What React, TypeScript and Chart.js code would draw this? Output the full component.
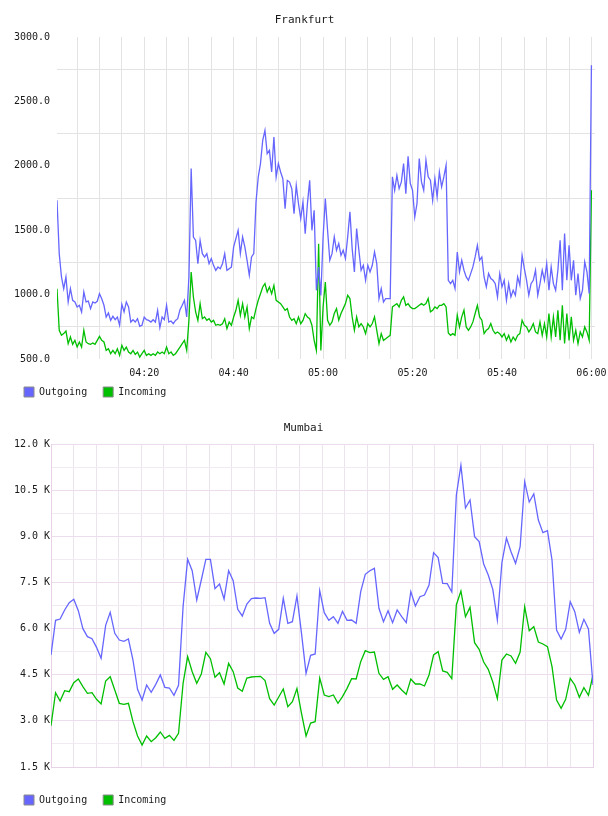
import React, { useEffect, useRef } from 'react';
import { Chart, registerables } from 'chart.js';

Chart.register(...registerables);

// ---- time axis (minutes after 04:00) ----
const FRANKFURT_START_MIN = 0.5;
const FRANKFURT_STEP_MIN = 0.5;
const FRANKFURT_X_MIN = 0.5;
const FRANKFURT_X_MAX = 120.8;

const MUMBAI_START_MIN = 0.3;
const MUMBAI_END_MIN = 120.3;

const SERIES_LABELS = ['Outgoing', 'Incoming'];

// ---- Frankfurt data (30 s samples) ----
const FRANKFURT_OUTGOING = [
  1732, 1318, 1137, 1046, 1137, 943, 1046, 956, 943, 904,
  917, 865, 1020, 943, 950, 891, 943, 935, 948, 1007,
  968, 917, 826, 857, 800, 831, 805, 826, 762, 925,
  865, 943, 904, 787, 805, 787, 813, 754, 762, 826,
  805, 800, 787, 805, 787, 878, 743, 826, 805, 917,
  787, 795, 774, 800, 813, 883, 917, 956, 826, 1137,
  1978, 1447, 1421, 1240, 1421, 1318, 1292, 1318, 1240, 1279,
  1227, 1188, 1214, 1201, 1240, 1318, 1188, 1201, 1214, 1370,
  1434, 1499, 1318, 1447, 1370, 1266, 1150, 1292, 1318, 1719,
  1913, 2017, 2198, 2275, 2094, 2120, 1952, 2224, 1913, 2017,
  1952, 1900, 1667, 1887, 1874, 1822, 1628, 1848, 1706, 1590,
  1719, 1473, 1706, 1887, 1499, 1654, 1033, 1214, 994, 1447,
  1745, 1500, 1267, 1318, 1448, 1344, 1396, 1305, 1344, 1280,
  1448, 1642, 1357, 1176, 1512, 1344, 1189, 1228, 1111, 1228,
  1176, 1228, 1331, 1241, 969, 1047, 943, 969, 969, 969,
  1914, 1810, 1926, 1823, 1875, 2017, 1784, 2074, 1862, 1810,
  1603, 1707, 2056, 1875, 1810, 2043, 1914, 1888, 1732, 1901,
  1758, 1952, 1836, 1914, 2004, 1111, 1085, 1111, 1047, 1331,
  1176, 1267, 1189, 1137, 1111, 1163, 1215, 1292, 1383, 1267,
  1292, 1137, 1060, 1163, 1124, 1111, 1085, 982, 1163, 1060,
  1111, 956, 1085, 982, 1034, 995, 1137, 1073, 1305, 1202,
  1111, 995, 1085, 1111, 1189, 995, 1085, 1189, 1111, 1241,
  1034, 1215, 1085, 1034, 1189, 1422, 1034, 1474, 1111, 1383,
  1111, 1267, 995, 1163, 969, 1034, 1254, 1176, 1008, 2781,
];

const FRANKFURT_INCOMING = [
  1046, 723, 684, 697, 717, 619, 671, 614, 645, 593,
  632, 593, 723, 632, 619, 614, 624, 614, 645, 676,
  645, 632, 567, 580, 541, 567, 541, 580, 528, 606,
  567, 593, 554, 541, 567, 536, 554, 515, 541, 567,
  528, 541, 528, 541, 528, 554, 541, 554, 541, 593,
  541, 554, 528, 541, 567, 593, 619, 645, 567, 800,
  1175, 981, 865, 800, 930, 813, 826, 800, 813, 787,
  800, 762, 769, 762, 774, 813, 736, 787, 762, 826,
  878, 956, 839, 930, 826, 904, 736, 826, 813, 891,
  956, 1007, 1059, 1085, 1020, 1059, 1007, 1072, 956, 943,
  930, 904, 878, 891, 826, 800, 813, 774, 826, 774,
  800, 852, 826, 813, 762, 645, 567, 1395, 567, 904,
  1098, 801, 762, 788, 853, 891, 801, 853, 891, 930,
  995, 969, 827, 723, 827, 749, 775, 749, 697, 775,
  749, 775, 827, 723, 620, 697, 645, 658, 671, 684,
  904, 917, 930, 904, 956, 982, 917, 930, 904, 891,
  891, 904, 917, 930, 917, 930, 969, 866, 879, 904,
  891, 917, 917, 930, 904, 702, 684, 697, 684, 840,
  749, 827, 879, 749, 723, 749, 788, 853, 917, 827,
  801, 697, 723, 736, 775, 723, 697, 710, 697, 671,
  697, 645, 684, 632, 671, 645, 684, 697, 801, 762,
  749, 710, 736, 775, 710, 697, 788, 684, 775, 671,
  853, 671, 827, 671, 879, 645, 917, 620, 853, 645,
  827, 645, 723, 620, 710, 671, 749, 710, 645, 1810,
];

// ---- Mumbai data (~1 min samples) ----
const MUMBAI_OUTGOING = [
  5141, 6268, 6311, 6604, 6842, 6950, 6582, 5997, 5737, 5672,
  5390, 5032, 6105, 6528, 5845, 5628, 5585, 5661, 4978, 4025,
  3678, 4165, 3927, 4187, 4491, 4090, 4068, 3829, 4155, 6712,
  8251, 7882, 6929, 7579, 8251, 8251, 7297, 7449, 6961, 7882,
  7557, 6625, 6409, 6799, 6972, 6994, 6983, 7005, 6170, 5845,
  5975, 6983, 6170, 6224, 7059, 5845, 4544, 5130, 5174, 7230,
  6517, 6268, 6387, 6170, 6560, 6268, 6279, 6170, 7200, 7763,
  7882, 7958, 6658, 6224, 6582, 6192, 6604, 6387, 6192, 7200,
  6734, 7037, 7091, 7416, 8467, 8305, 7470, 7460, 7189, 10342,
  11306, 9919, 10180, 8988, 8825, 8099, 7741, 7276, 6279, 8142,
  8944, 8500, 8121, 8662, 10776, 10114, 10375, 9529, 9118, 9183,
  8229, 5954, 5661, 5975, 6875, 6550, 5878, 6300, 5986, 4166,
];

const MUMBAI_INCOMING = [
  2844, 3916, 3646, 3981, 3949, 4241, 4361, 4111, 3895, 3916,
  3700, 3548, 4296, 4436, 4003, 3570, 3537, 3570, 2974, 2508,
  2215, 2508, 2323, 2453, 2638, 2432, 2529, 2367, 2594, 4220,
  5087, 4599, 4220, 4523, 5227, 5022, 4415, 4566, 4198, 4870,
  4599, 4068, 3960, 4393, 4426, 4436, 4447, 4307, 3722, 3515,
  3776, 4036, 3461, 3624, 4047, 3244, 2508, 2930, 2974, 4390,
  3841, 3787, 3841, 3570, 3787, 4057, 4372, 4361, 4924, 5282,
  5217, 5238, 4545, 4350, 4436, 4025, 4166, 4003, 3862, 4361,
  4198, 4198, 4133, 4491, 5141, 5249, 4621, 4577, 4372, 6777,
  7221, 6387, 6690, 5542, 5325, 4913, 4675, 4263, 3722, 4978,
  5173, 5108, 4870, 5238, 6712, 5932, 6062, 5563, 5498, 5412,
  4762, 3678, 3407, 3700, 4383, 4166, 3765, 4079, 3830, 4491,
];

// ---- styling ----
const BLUE = '#6666ff';
const GREEN = '#00bf00';
const MONO = '"DejaVu Sans Mono", "Liberation Mono", monospace';
const TEXT = '#1a1a1a';
const CLEAR = 'rgba(0,0,0,0)';

function pad2(n: number) {
  return n < 10 ? '0' + n : String(n);
}
function fmtTime(v: number) {
  const total = 240 + v;
  return pad2(Math.floor(total / 60)) + ':' + pad2(Math.round(total % 60));
}

type Spec = {
  title: string;
  out: number[];
  inc: number[];
  xs: number[];
  xMin: number;
  xMax: number;
  yMin: number;
  yMax: number;
  yStep: number;
  yLabelEvery: number;
  yLabel: (v: number) => string;
  yWidth: number;
  yTickPad: number;
  rightPad: number;
  titleTop: number;
  titleBottom: number;
  xLabelPad: number;
  hideXEnd: boolean;
  xGrid: (v: number) => string;
  yGrid: (v: number) => string;
  borderColor: string | null;
};

function buildConfig(s: Spec): any {
  const tickFont = { family: MONO, size: 10 };
  return {
    type: 'line',
    data: {
      datasets: [
        {
          label: SERIES_LABELS[0],
          data: s.out.map((y, i) => ({ x: s.xs[i], y })),
          borderColor: BLUE,
          backgroundColor: BLUE,
          borderWidth: 1.3,
          pointRadius: 0,
          tension: 0,
          fill: false,
        },
        {
          label: SERIES_LABELS[1],
          data: s.inc.map((y, i) => ({ x: s.xs[i], y })),
          borderColor: GREEN,
          backgroundColor: GREEN,
          borderWidth: 1.3,
          pointRadius: 0,
          tension: 0,
          fill: false,
        },
      ],
    },
    options: {
      animation: false,
      responsive: false,
      maintainAspectRatio: false,
      events: [],
      layout: { padding: { left: 8, right: s.rightPad, top: 0, bottom: 3 } },
      plugins: {
        title: {
          display: true,
          text: s.title,
          color: TEXT,
          font: { family: MONO, size: 11, weight: 'normal' },
          padding: { top: s.titleTop, bottom: s.titleBottom },
        },
        legend: {
          display: true,
          position: 'bottom',
          align: 'start',
          labels: {
            boxWidth: 10,
            boxHeight: 10,
            padding: 16,
            color: TEXT,
            font: { family: MONO, size: 10 },
            generateLabels: (chart: any) =>
              (Chart.defaults.plugins.legend.labels as any)
                .generateLabels(chart)
                .map((it: any) => ({ ...it, strokeStyle: '#8a8a8a', lineWidth: 1 })),
          },
        },
        tooltip: { enabled: false },
      },
      scales: {
        x: {
          type: 'linear',
          min: s.xMin,
          max: s.xMax,
          grid: {
            drawTicks: false,
            lineWidth: 1,
            color: (ctx: any) => (ctx.tick ? s.xGrid(ctx.tick.value) : CLEAR),
          },
          border: s.borderColor
            ? { display: true, color: s.borderColor, width: 1 }
            : { display: false },
          ticks: {
            stepSize: 5,
            includeBounds: false,
            autoSkip: false,
            maxRotation: 0,
            minRotation: 0,
            padding: s.xLabelPad,
            color: TEXT,
            font: tickFont,
            callback: (v: number) =>
              v % 20 === 0 && !(s.hideXEnd && v >= 120) ? fmtTime(v) : '',
          },
          afterFit: (scale: any) => {
            scale.height = 12;
            scale.paddingLeft = 0;
            scale.paddingRight = 0;
            // let the tick labels extend below the (short) axis box
            scale._computeLabelArea = () => undefined;
          },
        },
        y: {
          type: 'linear',
          min: s.yMin,
          max: s.yMax,
          grid: {
            drawTicks: false,
            lineWidth: 1,
            color: (ctx: any) => (ctx.tick ? s.yGrid(ctx.tick.value) : CLEAR),
          },
          border: s.borderColor
            ? { display: true, color: s.borderColor, width: 1 }
            : { display: false },
          ticks: {
            stepSize: s.yStep,
            autoSkip: false,
            padding: s.yTickPad,
            color: TEXT,
            font: tickFont,
            callback: (v: number) => (v % s.yLabelEvery === 0 ? s.yLabel(v) : ''),
          },
          afterFit: (scale: any) => {
            scale.width = s.yWidth;
          },
        },
        y2: {
          type: 'linear',
          position: 'right',
          display: true,
          grid: { display: false, drawTicks: false },
          border: s.borderColor
            ? { display: true, color: s.borderColor, width: 1 }
            : { display: false },
          ticks: { display: false },
          afterFit: (scale: any) => {
            scale.width = 6;
            scale.paddingTop = 0;
            scale.paddingBottom = 0;
          },
        },
      },
    },
  };
}

const frankfurtXs = FRANKFURT_OUTGOING.map((_, i) => FRANKFURT_START_MIN + i * FRANKFURT_STEP_MIN);
const mumbaiXs = MUMBAI_OUTGOING.map(
  (_, i) => MUMBAI_START_MIN + (i * (MUMBAI_END_MIN - MUMBAI_START_MIN)) / (MUMBAI_OUTGOING.length - 1)
);

const frankfurtSpec: Spec = {
  title: 'Frankfurt',
  out: FRANKFURT_OUTGOING,
  inc: FRANKFURT_INCOMING,
  xs: frankfurtXs,
  xMin: FRANKFURT_X_MIN,
  xMax: FRANKFURT_X_MAX,
  yMin: 500,
  yMax: 3000,
  yStep: 250,
  yLabelEvery: 500,
  yLabel: (v) => v.toFixed(1),
  yWidth: 49,
  yTickPad: 7,
  rightPad: 7,
  titleTop: 13.4,
  titleBottom: 10.4,
  xLabelPad: 8,
  hideXEnd: false,
  xGrid: () => '#e3e3e3',
  yGrid: (v) => (v % 500 === 0 ? CLEAR : '#e3e3e3'),
  borderColor: null,
};

const mumbaiSpec: Spec = {
  title: 'Mumbai',
  out: MUMBAI_OUTGOING,
  inc: MUMBAI_INCOMING,
  xs: mumbaiXs,
  xMin: MUMBAI_START_MIN,
  xMax: MUMBAI_END_MIN,
  yMin: 1500,
  yMax: 12000,
  yStep: 750,
  yLabelEvery: 1500,
  yLabel: (v) => (v / 1000).toFixed(1) + ' K',
  yWidth: 43,
  yTickPad: 1,
  rightPad: 9,
  titleTop: 14,
  titleBottom: 8.8,
  xLabelPad: 8.5,
  hideXEnd: true,
  xGrid: (v) => (v >= 120 ? CLEAR : v % 20 === 0 ? '#dcc4de' : '#ebe4ec'),
  yGrid: (v) => (v % 1500 === 0 ? '#eddbee' : '#f1ebf1'),
  borderColor: '#e6d3e8',
};

export default function App() {
  const ref1 = useRef<HTMLCanvasElement | null>(null);
  const ref2 = useRef<HTMLCanvasElement | null>(null);

  useEffect(() => {
    const charts: Chart[] = [];
    if (ref1.current) charts.push(new Chart(ref1.current, buildConfig(frankfurtSpec)));
    if (ref2.current) charts.push(new Chart(ref2.current, buildConfig(mumbaiSpec)));
    return () => {
      charts.forEach((c) => c.destroy());
    };
  }, []);

  return (
    <div
      style={{
        position: 'fixed',
        left: 0,
        top: 0,
        width: 608,
        height: 816,
        overflow: 'hidden',
        background: '#ffffff',
      }}
    >
      <canvas ref={ref1} width={608} height={410} style={{ position: 'absolute', left: 0, top: 0 }} />
      <canvas ref={ref2} width={608} height={410} style={{ position: 'absolute', left: 0, top: 408 }} />
    </div>
  );
}
